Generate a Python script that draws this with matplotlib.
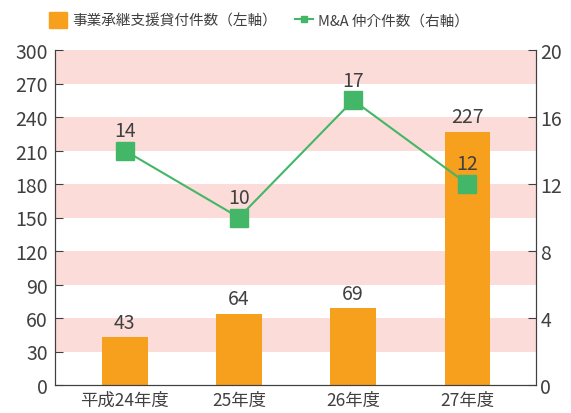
import matplotlib.pyplot as plt
import matplotlib.ticker as mticker
from matplotlib.patches import Patch
from matplotlib.lines import Line2D

plt.rcParams['font.family'] = ['Noto Sans CJK JP', 'DejaVu Sans']

# data
years = ['平成24年度', '25年度', '26年度', '27年度']
loans = [43, 64, 69, 227]        # 事業承継支援貸付件数 (left axis)
ma_deals = [14, 10, 17, 12]      # M&A 仲介件数 (right axis)

orange = '#f7a01e'
green = '#43b767'
pink = '#fcdcd8'
txt = '#404040'

fig = plt.figure(figsize=(5.71, 4.14), dpi=100)
ax = fig.add_axes([55 / 571, 28 / 414, 481 / 571, 335 / 414])
ax2 = ax.twinx()

x = range(len(years))

# pink bands
for lo in range(30, 300, 60):
    ax.axhspan(lo, lo + 30, color=pink, lw=0, zorder=0)

ax.bar(x, loans, width=0.4, color=orange, zorder=2)
for xi, v in zip(x, loans):
    ax.annotate(str(v), (xi, v), xytext=(0, 3), textcoords='offset points',
                ha='center', va='bottom', fontsize=14, color=txt)

ax2.plot(x, ma_deals, color=green, lw=1.5, marker='s', markersize=13, zorder=3)
for xi, v in zip(x, ma_deals):
    ax2.annotate(str(v), (xi, v), xytext=(0, 7), textcoords='offset points',
                 ha='center', va='bottom', fontsize=14, color=txt)

ax.set_xlim(-0.61, 3.6)
ax.set_ylim(0, 300)
ax2.set_ylim(0, 20)
ax.yaxis.set_major_locator(mticker.MultipleLocator(30))
ax2.yaxis.set_major_locator(mticker.MultipleLocator(4))
ax.set_xticks(list(x))
ax.set_xticklabels(years)

for a in (ax, ax2):
    a.spines['top'].set_visible(False)
    for s in a.spines.values():
        s.set_color(txt)
ax.tick_params(axis='y', direction='in', length=6, labelsize=14, colors=txt, pad=5)
ax2.tick_params(axis='y', direction='in', length=6, labelsize=14, colors=txt, pad=3)
ax.tick_params(axis='x', length=0, labelsize=12.5, colors=txt, pad=4)
ax2.set_zorder(ax.get_zorder() + 1)
ax2.patch.set_visible(False)

handles = [Patch(color=orange),
           Line2D([], [], color=green, lw=1.5, marker='s', markersize=5)]
labels = ['事業承継支援貸付件数（左軸）', 'M&A 仲介件数（右軸）']
fig.legend(handles, labels, loc='upper left', bbox_to_anchor=(36 / 571, 1.0),
           ncol=2, frameon=False, fontsize=10.5, labelcolor=txt,
           handlelength=1.25, handleheight=1.3, columnspacing=1.2, handletextpad=0.35)

fig.savefig('out.png', dpi=100)
